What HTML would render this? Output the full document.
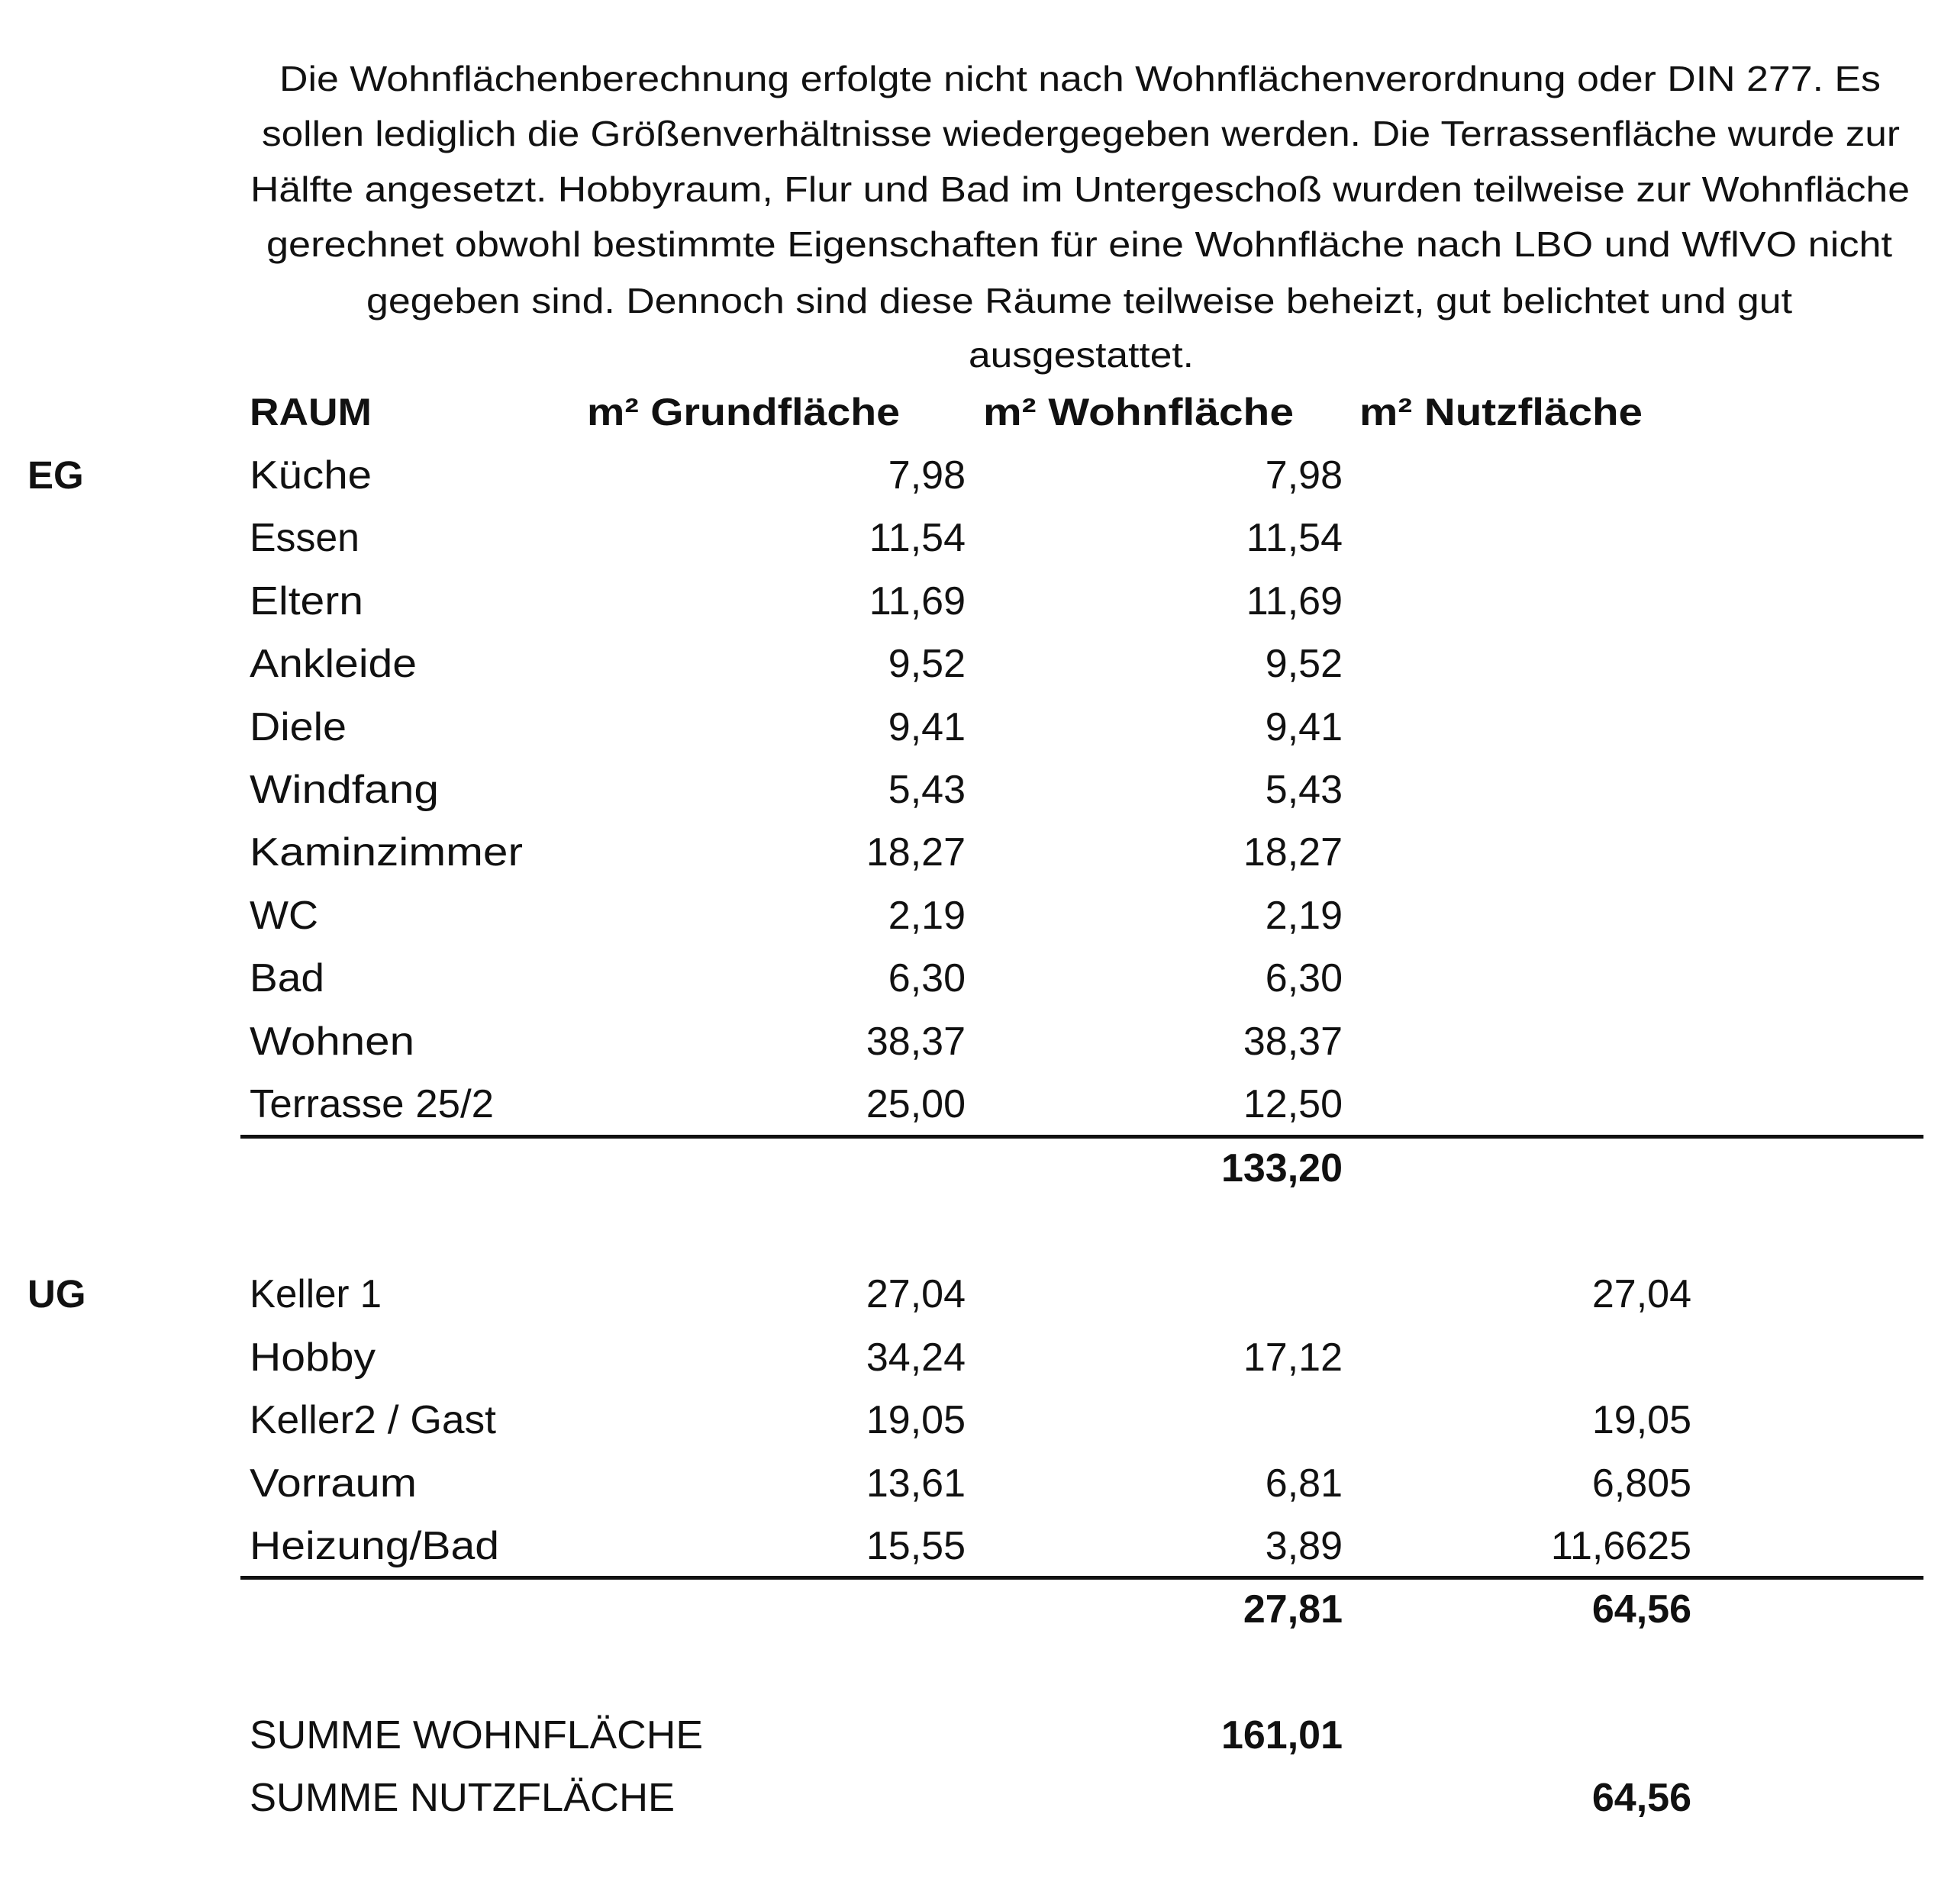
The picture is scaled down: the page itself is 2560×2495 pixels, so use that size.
<!DOCTYPE html>
<html><head><meta charset="utf-8"><style>
html,body{margin:0;padding:0;background:#fff;}
svg{display:block;}
text{font-family:"Liberation Sans",sans-serif;fill:#111;}
.p{font-size:46px;}
.h{font-size:50px;font-weight:bold;}
.r{font-size:52px;}
.n{font-size:52px;text-anchor:end;}
.b{font-size:52px;font-weight:bold;text-anchor:end;}
.l{font-size:51px;font-weight:bold;}
</style></head><body>
<svg width="2560" height="2495" viewBox="0 0 2560 2495" xmlns="http://www.w3.org/2000/svg">
<rect width="2560" height="2495" fill="#fff"/>
<text class="p" x="366" y="119" textLength="2098" lengthAdjust="spacingAndGlyphs">Die Wohnflächenberechnung erfolgte nicht nach Wohnflächenverordnung oder DIN 277. Es</text>
<text class="p" x="343" y="191" textLength="2146" lengthAdjust="spacingAndGlyphs">sollen lediglich die Größenverhältnisse wiedergegeben werden. Die Terrassenfläche wurde zur</text>
<text class="p" x="328" y="264" textLength="2174" lengthAdjust="spacingAndGlyphs">Hälfte angesetzt. Hobbyraum, Flur und Bad im Untergeschoß wurden teilweise zur Wohnfläche</text>
<text class="p" x="349" y="336" textLength="2130" lengthAdjust="spacingAndGlyphs">gerechnet obwohl bestimmte Eigenschaften für eine Wohnfläche nach LBO und WflVO nicht</text>
<text class="p" x="480" y="410" textLength="1868" lengthAdjust="spacingAndGlyphs">gegeben sind. Dennoch sind diese Räume teilweise beheizt, gut belichtet und gut</text>
<text class="p" x="1269" y="481" textLength="295" lengthAdjust="spacingAndGlyphs">ausgestattet.</text>

<text class="h" x="327" y="557" textLength="160" lengthAdjust="spacingAndGlyphs">RAUM</text>
<text class="h" x="769" y="557" textLength="410" lengthAdjust="spacingAndGlyphs">m² Grundfläche</text>
<text class="h" x="1288" y="557" textLength="407" lengthAdjust="spacingAndGlyphs">m² Wohnfläche</text>
<text class="h" x="1781" y="557" textLength="371" lengthAdjust="spacingAndGlyphs">m² Nutzfläche</text>

<text class="l" x="36" y="640">EG</text>
<g>
<text class="r" x="327" y="640" textLength="160" lengthAdjust="spacingAndGlyphs">Küche</text>
<text class="n" x="1265" y="640">7,98</text><text class="n" x="1759" y="640">7,98</text>
<text class="r" x="327" y="722" textLength="144" lengthAdjust="spacingAndGlyphs">Essen</text>
<text class="n" x="1265" y="722">11,54</text><text class="n" x="1759" y="722">11,54</text>
<text class="r" x="327" y="805" textLength="149" lengthAdjust="spacingAndGlyphs">Eltern</text>
<text class="n" x="1265" y="805">11,69</text><text class="n" x="1759" y="805">11,69</text>
<text class="r" x="327" y="887" textLength="219" lengthAdjust="spacingAndGlyphs">Ankleide</text>
<text class="n" x="1265" y="887">9,52</text><text class="n" x="1759" y="887">9,52</text>
<text class="r" x="327" y="970" textLength="127" lengthAdjust="spacingAndGlyphs">Diele</text>
<text class="n" x="1265" y="970">9,41</text><text class="n" x="1759" y="970">9,41</text>
<text class="r" x="327" y="1052" textLength="248" lengthAdjust="spacingAndGlyphs">Windfang</text>
<text class="n" x="1265" y="1052">5,43</text><text class="n" x="1759" y="1052">5,43</text>
<text class="r" x="327" y="1134" textLength="358" lengthAdjust="spacingAndGlyphs">Kaminzimmer</text>
<text class="n" x="1265" y="1134">18,27</text><text class="n" x="1759" y="1134">18,27</text>
<text class="r" x="327" y="1217" textLength="90" lengthAdjust="spacingAndGlyphs">WC</text>
<text class="n" x="1265" y="1217">2,19</text><text class="n" x="1759" y="1217">2,19</text>
<text class="r" x="327" y="1299" textLength="98" lengthAdjust="spacingAndGlyphs">Bad</text>
<text class="n" x="1265" y="1299">6,30</text><text class="n" x="1759" y="1299">6,30</text>
<text class="r" x="327" y="1382" textLength="216" lengthAdjust="spacingAndGlyphs">Wohnen</text>
<text class="n" x="1265" y="1382">38,37</text><text class="n" x="1759" y="1382">38,37</text>
<text class="r" x="327" y="1464" textLength="320" lengthAdjust="spacingAndGlyphs">Terrasse 25/2</text>
<text class="n" x="1265" y="1464">25,00</text><text class="n" x="1759" y="1464">12,50</text>
</g>
<rect x="315" y="1487" width="2205" height="5" fill="#111"/>
<text class="b" x="1759" y="1548">133,20</text>

<text class="l" x="36" y="1713">UG</text>
<text class="r" x="327" y="1713" textLength="173" lengthAdjust="spacingAndGlyphs">Keller 1</text>
<text class="n" x="1265" y="1713">27,04</text><text class="n" x="2216" y="1713">27,04</text>
<text class="r" x="327" y="1796" textLength="165" lengthAdjust="spacingAndGlyphs">Hobby</text>
<text class="n" x="1265" y="1796">34,24</text><text class="n" x="1759" y="1796">17,12</text>
<text class="r" x="327" y="1878" textLength="323" lengthAdjust="spacingAndGlyphs">Keller2 / Gast</text>
<text class="n" x="1265" y="1878">19,05</text><text class="n" x="2216" y="1878">19,05</text>
<text class="r" x="327" y="1961" textLength="219" lengthAdjust="spacingAndGlyphs">Vorraum</text>
<text class="n" x="1265" y="1961">13,61</text><text class="n" x="1759" y="1961">6,81</text><text class="n" x="2216" y="1961">6,805</text>
<text class="r" x="327" y="2043" textLength="327" lengthAdjust="spacingAndGlyphs">Heizung/Bad</text>
<text class="n" x="1265" y="2043">15,55</text><text class="n" x="1759" y="2043">3,89</text><text class="n" x="2216" y="2043">11,6625</text>
<rect x="315" y="2065" width="2205" height="5" fill="#111"/>
<text class="b" x="1759" y="2126">27,81</text><text class="b" x="2216" y="2126">64,56</text>

<text class="r" x="327" y="2291" textLength="594" lengthAdjust="spacingAndGlyphs">SUMME WOHNFLÄCHE</text>
<text class="b" x="1759" y="2291">161,01</text>
<text class="r" x="327" y="2373" textLength="557" lengthAdjust="spacingAndGlyphs">SUMME NUTZFLÄCHE</text>
<text class="b" x="2216" y="2373">64,56</text>
</svg>
</body></html>
